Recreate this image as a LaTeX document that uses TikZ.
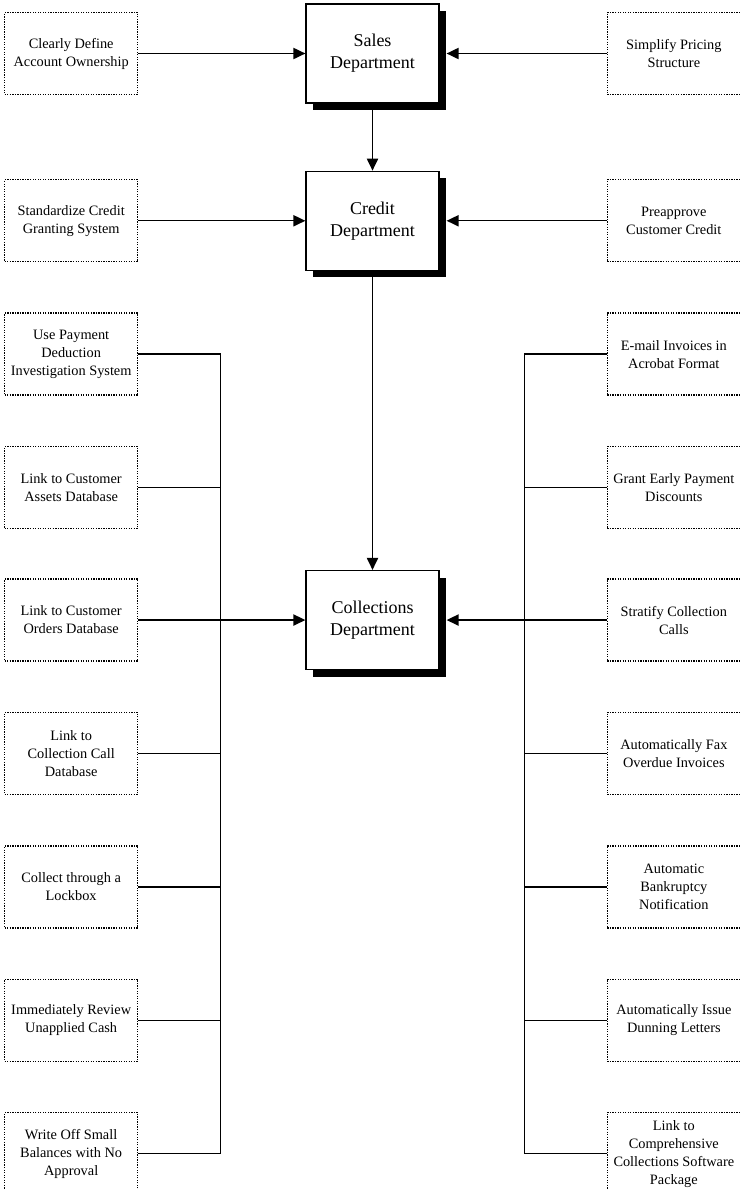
\documentclass[tikz,border=0pt]{standalone}
\usepackage{fontspec}
\setmainfont{Liberation Serif}
\usetikzlibrary{arrows.meta, positioning, shadows}
\tikzset{
  dept/.style = {rectangle, draw=black, line width=0.9pt, fill=white, align=center, minimum height=2.475cm, minimum width=3.325cm, font=\fontsize{12.8}{15.6}\selectfont, drop shadow={shadow xshift=0.175cm, shadow yshift=-0.175cm, fill=black, opacity=1}},
  idea/.style = {rectangle, draw=black, line width=1pt, dash pattern=on 0.9pt off 0.9pt, align=center, inner sep=1pt, minimum height=2.05cm, minimum width=3.325cm, font=\fontsize{10.2}{12.8}\selectfont},
  line/.style = {-{Triangle[length=3mm, width=2.8mm]}, line width=1pt},
  link/.style = {line width=1pt}
}
\begin{document}
\begin{tikzpicture}[node distance=1.25cm and 4.175cm]
\useasboundingbox (0,0) rectangle (18.5,-29.725);

% Departments
\node[dept] (sales) at (9.3125,-1.3375) {Sales\\ Department};
\node[dept, below=1.675cm of sales] (credit) {Credit\\ Department};
\node[dept, below=7.475cm of credit] (coll) {Collections\\ Department};

% Left column
\node[idea, left=of sales] (l1) {Clearly Define\\ Account Ownership};
\node[idea, left=of credit] (l2) {Standardize Credit\\ Granting System};
\node[idea, below=of l2] (l3) {Use Payment\\ Deduction\\ Investigation System};
\node[idea, below=of l3] (l4) {Link to Customer\\ Assets Database};
\node[idea, left=of coll] (l5) {Link to Customer\\ Orders Database};
\node[idea, below=of l5] (l6) {Link to\\ Collection Call\\ Database};
\node[idea, below=of l6] (l7) {Collect through a\\ Lockbox};
\node[idea, below=of l7] (l8) {Immediately Review\\ Unapplied Cash};
\node[idea, below=of l8] (l9) {Write Off Small\\ Balances with No\\ Approval};

% Right column
\node[idea, right=of sales] (r1) {Simplify Pricing\\ Structure};
\node[idea, right=of credit] (r2) {Preapprove\\ Customer Credit};
\node[idea, below=of r2] (r3) {E-mail Invoices in\\ Acrobat Format};
\node[idea, below=of r3] (r4) {Grant Early Payment\\ Discounts};
\node[idea, right=of coll] (r5) {Stratify Collection\\ Calls};
\node[idea, below=of r5] (r6) {Automatically Fax\\ Overdue Invoices};
\node[idea, below=of r6] (r7) {Automatic\\ Bankruptcy\\ Notification};
\node[idea, below=of r7] (r8) {Automatically Issue\\ Dunning Letters};
\node[idea, below=of r8] (r9) {Link to\\ Comprehensive\\ Collections Software\\ Package};

% Buses
\coordinate[right=2.05cm of l3.east] (lbus);
\coordinate[left=2.05cm of r3.west] (rbus);

% Arrows
\draw[line] (sales) -- (credit);
\draw[line] (credit) -- (coll);
\draw[line] (l1) -- (sales);
\draw[line] (l2) -- (credit);
\draw[line] (l5) -- (coll);
\draw[line, shorten >=0.175cm] (r1) -- (sales);
\draw[line, shorten >=0.175cm] (r2) -- (credit);
\draw[line, shorten >=0.175cm] (r5) -- (coll);

\draw[link] (l3.east) -- (lbus) |- (l9.east);
\foreach \n in {4,6,7,8} \draw[link] (l\n.east) -- (l\n.east -| lbus);
\draw[link] (r3.west) -- (rbus) |- (r9.west);
\foreach \n in {4,6,7,8} \draw[link] (r\n.west) -- (r\n.west -| rbus);

\end{tikzpicture}
\end{document}
